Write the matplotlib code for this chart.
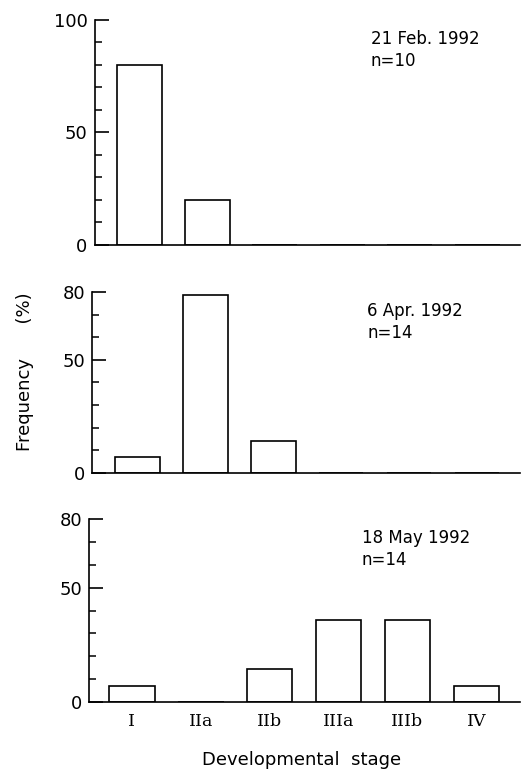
import matplotlib
matplotlib.use('Agg')
import matplotlib.pyplot as plt
import numpy as np

plt.rcParams['font.family'] = ['DejaVu Sans']

# developmental stages on the x axis
stages = ['I', 'IIa', 'IIb', 'IIIa', 'IIIb', 'IV']

# frequency (%) of each stage on the three sampling dates
feb = [80.0, 20.0, 0, 0, 0, 0]
apr = [7.1, 78.6, 14.3, 0, 0, 0]
may = [7.1, 0, 14.3, 35.7, 35.7, 7.1]

dates = ['21 Feb. 1992', '6 Apr. 1992', '18 May 1992']
counts = [10, 14, 14]
ymax = [100, 80, 80]

fig = plt.figure(figsize=(5.25, 7.74), dpi=100)

# axes boxes in figure fractions (left, bottom, width, height)
boxes = [
    [0.180, 0.6835, 0.810, 0.2907],
    [0.176, 0.3889, 0.814, 0.2339],
    [0.170, 0.0930, 0.820, 0.2364],
]
xleft = [-0.67, -0.66, -0.62]
textpos = [(0.65, 0.955), (0.643, 0.945), (0.633, 0.945)]

x = np.arange(len(stages))
for i, vals in enumerate([feb, apr, may]):
    ax = fig.add_axes(boxes[i])
    ax.bar(x, vals, width=0.66, facecolor='white', edgecolor='black', linewidth=1.2)
    ax.set_xlim(xleft[i], 5.63)
    ax.set_ylim(0, ymax[i])
    ax.spines['top'].set_visible(False)
    ax.spines['right'].set_visible(False)
    ax.spines['left'].set_linewidth(1.2)
    ax.spines['bottom'].set_linewidth(1.2)
    ax.set_yticks([0, 50, ymax[i]])
    ax.set_yticks(np.arange(0, ymax[i] + 1, 10), minor=True)
    ax.tick_params(axis='y', which='major', direction='in', length=10, width=1.2,
                   labelsize=13, pad=5)
    ax.tick_params(axis='y', which='minor', direction='in', length=5, width=1.1)
    if i == 2:
        ax.set_xticks(x)
        ax.set_xticklabels(stages, family='DejaVu Serif', fontsize=12.5)
        ax.tick_params(axis='x', length=0, pad=8)
    else:
        ax.set_xticks([])
    ax.text(textpos[i][0], textpos[i][1], '%s\nn=%d' % (dates[i], counts[i]),
            transform=ax.transAxes, ha='left', va='top', fontsize=12,
            linespacing=1.3)

fig.text(0.048, 0.52, 'Frequency      (%)', rotation=90, ha='center', va='center',
         fontsize=13)
fig.text(0.575, 0.006, 'Developmental  stage', ha='center', va='bottom', fontsize=13)

fig.savefig('out.png', dpi=100)
